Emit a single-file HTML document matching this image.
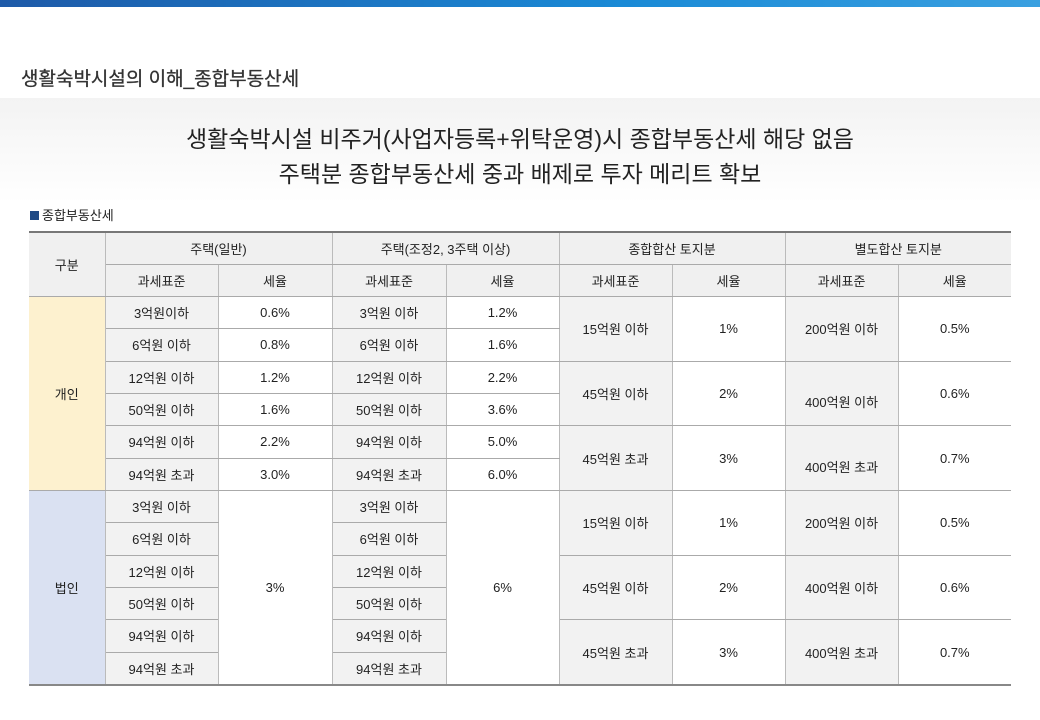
<!DOCTYPE html>
<html><head><meta charset="utf-8"><style>
*{margin:0;padding:0;box-sizing:border-box}
body{width:1040px;height:720px;background:#fff;position:relative;overflow:hidden;font-family:"Liberation Sans","Noto Sans CJK KR","NanumGothic",sans-serif;color:#222}
.bar{position:absolute;left:0;top:0;width:1040px;height:7px;background:linear-gradient(90deg,#1e5aa8,#1a8ad6 60%,#3aa0e0)}
.t1{position:absolute;left:21px;top:64px;font-size:19px;color:#333;-webkit-text-stroke:0.3px #333}
.band{position:absolute;left:0;top:98px;width:1040px;height:105px;background:linear-gradient(180deg,#f3f3f3,#fff)}
.t2{position:absolute;left:0;width:1040px;text-align:center;font-size:23px;color:#222}
.t3{position:absolute;left:30px;top:205px;font-size:13px;color:#222}
.t3 b{display:inline-block;width:9px;height:9px;background:#1f4a85;margin-right:3px;vertical-align:0px}
table{position:absolute;left:29px;top:231px;width:982px;border-collapse:collapse;table-layout:fixed;font-size:13px}
td{text-align:center;vertical-align:middle;border:1px solid #aaa;border-left-color:#bbb;border-right-color:#bbb;height:32.35px;padding:0}
tr:first-child td{border-top:2px solid #777;height:32px}
td:first-child{border-left:none}
td:last-child{border-right:none}
.h{background:#f0f0f0}
.g{background:#f2f2f2}
.y{background:#fdf1cf}
.b{background:#dae1f2}
.bl{position:absolute;left:29px;top:684px;width:982px;height:2px;background:#888}
</style></head><body>
<div class="bar"></div>
<div class="t1">생활숙박시설의 이해_종합부동산세</div>
<div class="band"></div>
<div class="t2" style="top:120px">생활숙박시설 비주거(사업자등록+위탁운영)시 종합부동산세 해당 없음</div>
<div class="t2" style="top:155px">주택분 종합부동산세 중과 배제로 투자 메리트 확보</div>
<div class="t3"><b></b>종합부동산세</div>
<table>
<colgroup><col style="width:76px"><col style="width:113px"><col style="width:114px"><col style="width:114px"><col style="width:113px"><col style="width:113px"><col style="width:113px"><col style="width:113px"><col style="width:113px"></colgroup>
<tr><td class="h" rowspan="2">구분</td><td class="h" colspan="2">주택(일반)</td><td class="h" colspan="2">주택(조정2, 3주택 이상)</td><td class="h" colspan="2">종합합산 토지분</td><td class="h" colspan="2">별도합산 토지분</td></tr>
<tr><td class="h">과세표준</td><td class="h">세율</td><td class="h">과세표준</td><td class="h">세율</td><td class="h">과세표준</td><td class="h">세율</td><td class="h">과세표준</td><td class="h">세율</td></tr>
<tr><td class="y" rowspan="6">개인</td><td class="g">3억원이하</td><td>0.6%</td><td class="g">3억원 이하</td><td>1.2%</td><td class="g" rowspan="2">15억원 이하</td><td rowspan="2">1%</td><td class="g" rowspan="2">200억원 이하</td><td rowspan="2">0.5%</td></tr>
<tr><td class="g">6억원 이하</td><td>0.8%</td><td class="g">6억원 이하</td><td>1.6%</td></tr>
<tr><td class="g">12억원 이하</td><td>1.2%</td><td class="g">12억원 이하</td><td>2.2%</td><td class="g" rowspan="2">45억원 이하</td><td rowspan="2">2%</td><td class="g" rowspan="2" style="padding-top:16px">400억원 이하</td><td rowspan="2">0.6%</td></tr>
<tr><td class="g">50억원 이하</td><td>1.6%</td><td class="g">50억원 이하</td><td>3.6%</td></tr>
<tr><td class="g">94억원 이하</td><td>2.2%</td><td class="g">94억원 이하</td><td>5.0%</td><td class="g" rowspan="2">45억원 초과</td><td rowspan="2">3%</td><td class="g" rowspan="2" style="padding-top:16px">400억원 초과</td><td rowspan="2">0.7%</td></tr>
<tr><td class="g">94억원 초과</td><td>3.0%</td><td class="g">94억원 초과</td><td>6.0%</td></tr>
<tr><td class="b" rowspan="6">법인</td><td class="g">3억원 이하</td><td rowspan="6">3%</td><td class="g">3억원 이하</td><td rowspan="6">6%</td><td class="g" rowspan="2">15억원 이하</td><td rowspan="2">1%</td><td class="g" rowspan="2">200억원 이하</td><td rowspan="2">0.5%</td></tr>
<tr><td class="g">6억원 이하</td><td class="g">6억원 이하</td></tr>
<tr><td class="g">12억원 이하</td><td class="g">12억원 이하</td><td class="g" rowspan="2">45억원 이하</td><td rowspan="2">2%</td><td class="g" rowspan="2">400억원 이하</td><td rowspan="2">0.6%</td></tr>
<tr><td class="g">50억원 이하</td><td class="g">50억원 이하</td></tr>
<tr><td class="g">94억원 이하</td><td class="g">94억원 이하</td><td class="g" rowspan="2">45억원 초과</td><td rowspan="2">3%</td><td class="g" rowspan="2">400억원 초과</td><td rowspan="2">0.7%</td></tr>
<tr><td class="g">94억원 초과</td><td class="g">94억원 초과</td></tr>
</table>
<div class="bl"></div>
</body></html>
